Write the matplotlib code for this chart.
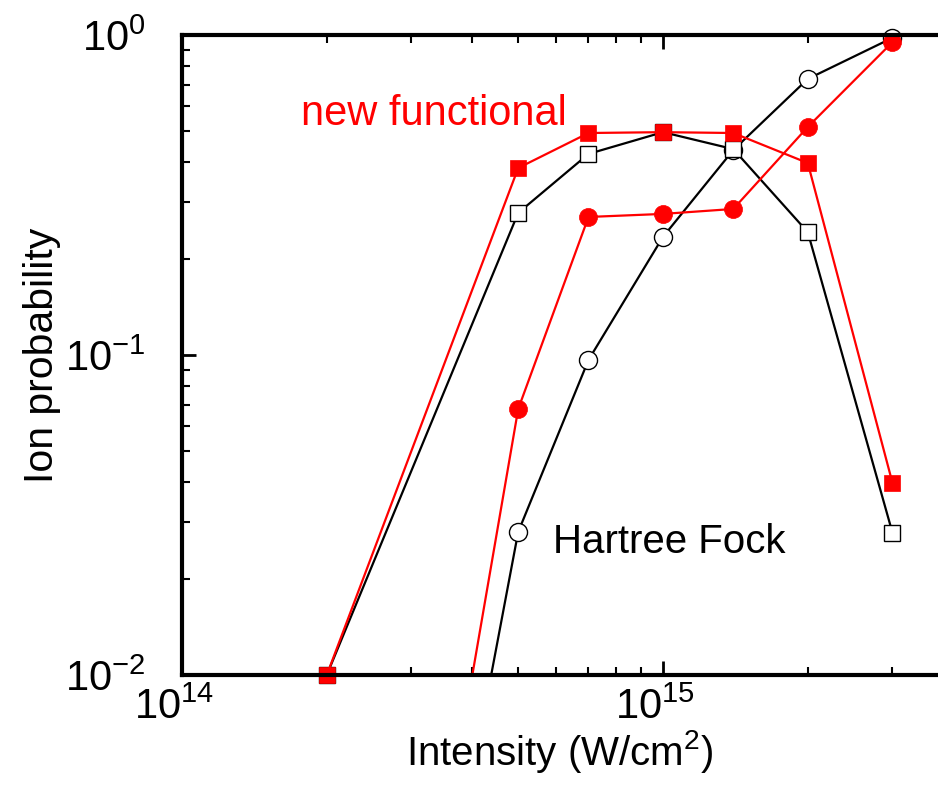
import numpy as np
import matplotlib.pyplot as plt
from matplotlib.ticker import LogLocator, NullFormatter
import matplotlib.transforms as mtransforms

plt.rcParams['font.family'] = ['Liberation Sans', 'DejaVu Sans']
plt.rcParams['mathtext.fontset'] = 'custom'
plt.rcParams['mathtext.rm'] = 'Liberation Sans'
plt.rcParams['mathtext.it'] = 'Liberation Sans'

# intensity grid (W/cm^2)
intensity = [2e14, 5e14, 7e14, 1e15, 1.4e15, 2e15, 3e15]

# single ionization (squares)
sq_new = [1e-2, 0.384, 0.494, 0.497, 0.494, 0.398, 0.0398]
sq_hf = [1e-2, 0.278, 0.425, 0.497, 0.44, 0.242, 0.0278]
# double ionization (circles)
circ_new = [2.3e-5, 0.0678, 0.27, 0.276, 0.286, 0.516, 0.95]
circ_hf = [1.9e-5, 0.028, 0.0965, 0.234, 0.437, 0.729, 0.98]

fig = plt.figure(figsize=(9.38, 7.88), dpi=100)
ax = fig.add_axes([182/938, 1 - 675/788, 1 - 182/938, 640/788])


def series(x, y, color, marker, face, ms, z):
    x = np.array(x)
    y = np.array(y)
    ax.plot(x, y, '-', color=color, lw=1.6, zorder=z)
    keep = y >= 1e-2
    ax.plot(x[keep], y[keep], ls='none', marker=marker, ms=ms,
            mfc=face, mec=color if face != 'white' else 'black',
            mew=1.0 if face == 'white' else 0.5, clip_on=False, zorder=z + 0.5)


series(intensity, circ_hf, 'black', 'o', 'white', 13, 2)
series(intensity, sq_hf, 'black', 's', 'white', 12, 2)
series(intensity, circ_new, 'red', 'o', 'red', 13, 3)
series(intensity, sq_new, 'red', 's', 'red', 12, 3)

ax.set_xscale('log')
ax.set_yscale('log')
ax.set_xlim(1e14, 10 ** (14 + 756 / 481))
ax.set_ylim(1e-2, 1)

for s in ['left', 'top', 'bottom']:
    ax.spines[s].set_linewidth(3)
    ax.spines[s].set_zorder(5)
ax.spines['right'].set_visible(False)

ax.xaxis.set_major_locator(LogLocator(base=10, numticks=10))
ax.xaxis.set_minor_locator(LogLocator(base=10, subs=np.arange(2, 10), numticks=20))
ax.xaxis.set_minor_formatter(NullFormatter())
ax.yaxis.set_minor_formatter(NullFormatter())
ax.tick_params(which='both', direction='in', top=True, right=False, labelsize=30)
ax.tick_params(which='major', length=10, width=2)
ax.tick_params(which='minor', length=6, width=1.5)
ax.tick_params(axis='y', which='major', pad=26)
ax.tick_params(axis='x', which='major', pad=9)

offset = mtransforms.ScaledTranslation(-8 / 100, 0, fig.dpi_scale_trans)
for lab in ax.get_xticklabels():
    lab.set_transform(lab.get_transform() + offset)

ax.set_xlabel('Intensity (W/cm$^2$)', fontsize=29, labelpad=0)
ax.set_ylabel('Ion probability', fontsize=29.5, labelpad=3)

ax.text(0.157, 0.859, 'new functional', color='red', fontsize=30,
        transform=ax.transAxes, va='baseline')
ax.text(0.491, 0.191, 'Hartree Fock', color='black', fontsize=29,
        transform=ax.transAxes, va='baseline')

fig.savefig('out.png', dpi=100)
